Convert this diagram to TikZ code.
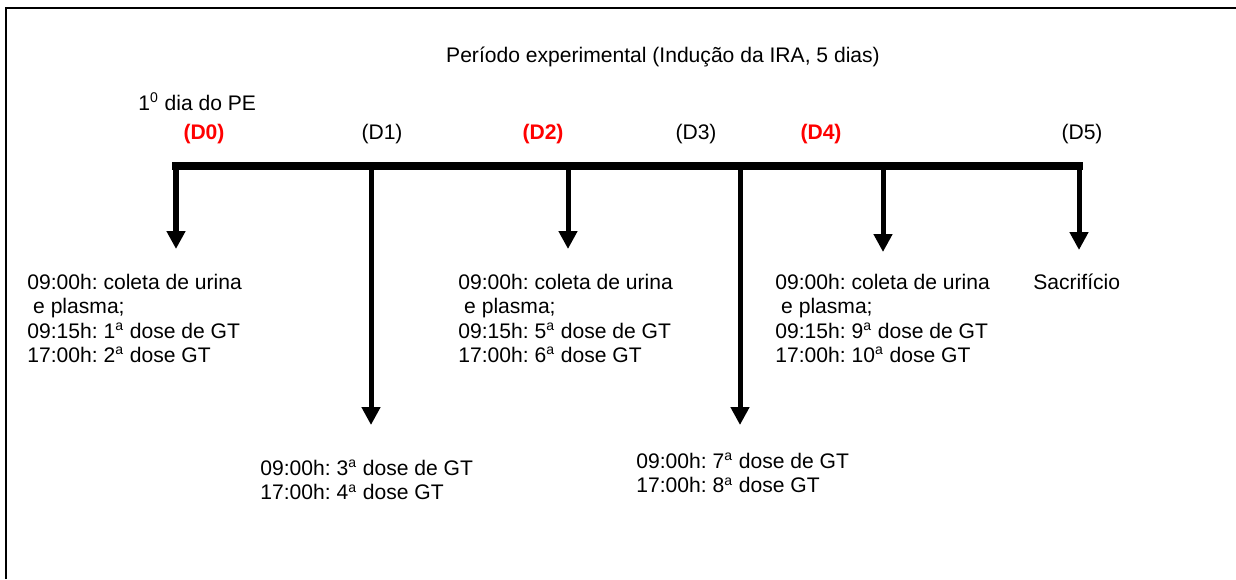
\documentclass[tikz,border=0pt]{standalone}
\usepackage{fontspec}
\setmainfont{Liberation Sans}
\usetikzlibrary{arrows.meta}
\frenchspacing

\begin{document}
\begin{tikzpicture}[x=0.02cm,y=-0.02cm,
  every node/.style={font=\fontsize{12}{13.8}\selectfont,inner sep=0pt},
  dia/.style={anchor=base},
  diared/.style={anchor=base,text=red,font=\fontsize{12}{13.8}\selectfont\bfseries},
  bloco/.style={anchor=north west,align=left},
  seta/.style={-{Triangle[width=3.6mm,length=3.6mm]},line width=2.85pt}]
\useasboundingbox (0,0) rectangle (1236,579);
\draw[line width=1.1pt] (6,579) -- (6,8) -- (1236,8);
\path (176,166) coordinate (d0);
\path (371,166) coordinate (d1);
\path (568,166) coordinate (d2);
\path (740,166) coordinate (d3);
\path (883,166) coordinate (d4);
\path (1079,166) coordinate (d5);
\path (176,249) coordinate (e0);
\path (371,425) coordinate (e1);
\path (568,249) coordinate (e2);
\path (740,425) coordinate (e3);
\path (883,252) coordinate (e4);
\path (1079,250) coordinate (e5);
\draw[line width=4pt,line cap=rect] (d0) -- (d5);
\draw[seta] (d0) -- (e0);
\draw[seta] (d1) -- (e1);
\draw[seta] (d2) -- (e2);
\draw[seta] (d3) -- (e3);
\draw[seta] (d4) -- (e4);
\draw[seta] (d5) -- (e5);
\node [dia] (titulo) at (663,62) {Período experimental (Indução da IRA, 5 dias)};
\node [anchor=base west] (pe) at (138,110) {1\textsuperscript{0} dia do PE};
\node [diared] (l0) at (204,139) {(D0)};
\node [dia] (l1) at (382,139) {(D1)};
\node [diared] (l2) at (543,139) {(D2)};
\node [dia] (l3) at (696,139) {(D3)};
\node [diared] (l4) at (821,139) {(D4)};
\node [dia] (l5) at (1082,139) {(D5)};
\node [bloco] (t0) at (27,274) {09:00h: coleta de urina\\\ e plasma;\\09:15h: 1\textsuperscript{a} dose de GT\\17:00h: 2\textsuperscript{a} dose GT};
\node [bloco] (t1) at (260,460) {09:00h: 3\textsuperscript{a} dose de GT\\17:00h: 4\textsuperscript{a} dose GT};
\node [bloco] (t2) at (458,274) {09:00h: coleta de urina\\\ e plasma;\\09:15h: 5\textsuperscript{a} dose de GT\\17:00h: 6\textsuperscript{a} dose GT};
\node [bloco] (t3) at (636,453) {09:00h: 7\textsuperscript{a} dose de GT\\17:00h: 8\textsuperscript{a} dose GT};
\node [bloco] (t4) at (775,274) {09:00h: coleta de urina\\\ e plasma;\\09:15h: 9\textsuperscript{a} dose de GT\\17:00h: 10\textsuperscript{a} dose GT};
\node [bloco] (t5) at (1033,274) {Sacrifício};
\end{tikzpicture}
\end{document}
